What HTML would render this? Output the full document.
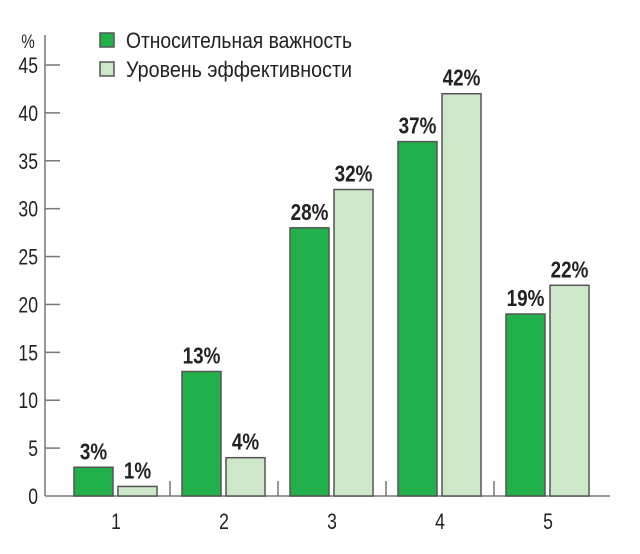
<!DOCTYPE html>
<html><head><meta charset="utf-8"><style>
body{margin:0;background:#fff}
text{font-family:"Liberation Sans",sans-serif}
</style></head><body>
<svg id="c" width="640" height="549"></svg>
<script>
const categories=["1","2","3","4","5"];
const importance=[3,13,28,37,19];
const efficiency=[1,4,32,42,22];
const yTicks=[0,5,10,15,20,25,30,35,40,45];
const svg=document.getElementById('c');
const NS='http://www.w3.org/2000/svg';
function y(v){return 496-v*(496-65)/45;}
function cx(i){return 116+i*108;}
function mk(t,a,p){const e=document.createElementNS(NS,t);for(const k in a)e.setAttribute(k,a[k]);(p||svg).appendChild(e);return e;}
function txt(x,yy,s,size,anchor,weight,sx){const t=mk('text',{x:0,y:0,'font-size':size,fill:'#222','text-anchor':anchor,'font-weight':weight||'normal',transform:'translate('+x+','+yy+') scale('+(sx||0.8)+',1)'});t.textContent=s;return t;}
let ax=mk('line',{x1:45,y1:35,x2:45,y2:496,stroke:'#777','stroke-width':1.5});


let bx=mk('line',{x1:45,y1:496,x2:610,y2:496,stroke:'#777','stroke-width':1.5});


let pc=txt(28,48,'%',19,'middle');


yTicks.forEach(v=>{
  if(v>0){const l=mk('line',{x1:45,y1:y(v),x2:60,y2:y(v),stroke:'#777','stroke-width':1.5});
  
  }
  const t=txt(38,y(v)+8,String(v),22,'end');
  
  
});
categories.forEach((c,i)=>{
  const sx=cx(i)+54;
  if(i<categories.length-1){const s=mk('line',{x1:sx,y1:481,x2:sx,y2:496,stroke:'#777','stroke-width':1.5});
  
  }
  const t=txt(cx(i),529,c,22,'middle');
  
  
  [[importance[i],'#22b04b',cx(i)-42],[efficiency[i],'#cde8c9',cx(i)+2]].forEach((d,j)=>{
    const r=mk('rect',{x:d[2],y:y(d[0]),width:39,height:496-y(d[0]),fill:d[1],stroke:'#555','stroke-width':1.5});
    
    
    const l=txt(d[2]+19.5,y(d[0])-8,d[0]+'%',23,'middle','bold',0.82);
    
    
  });
});
[['#22b04b','Относительная важность',33],['#cde8c9','Уровень эффективности',62]].forEach((d,i)=>{
  const g=mk('g',{});
  
  
  mk('rect',{x:100,y:d[2],width:14,height:14,fill:d[0],stroke:'#555','stroke-width':1.5},g);
  const t=mk('text',{x:126,y:d[2]+15,'font-size':22,fill:'#222',textLength:226,lengthAdjust:'spacingAndGlyphs'},g);t.textContent=d[1];
});
</script>
</body></html>
